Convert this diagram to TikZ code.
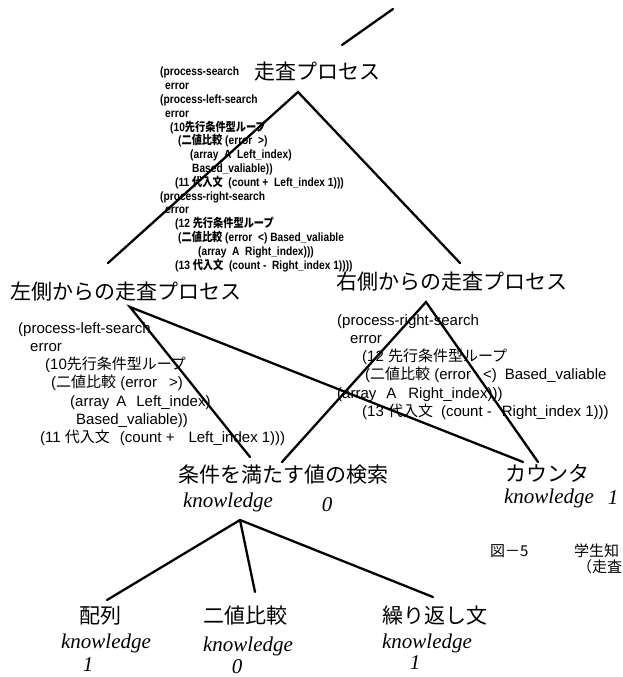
\documentclass[tikz,border=0pt]{standalone}
\usepackage{fontspec}
\setmainfont{Liberation Sans}
\newfontfamily\jp{Noto Sans CJK JP}
\newfontfamily\jpn[FakeStretch=0.85]{Noto Sans CJK JP}
\newfontfamily\lsn[FakeStretch=0.85]{Liberation Sans}
\newfontfamily\tms{Liberation Serif}
\newcommand\J[1]{{\jp #1}}
\newcommand\JN[1]{{\jpn\bfseries #1}}
\begin{document}
\begin{tikzpicture}[x=1pt,y=-1pt,
  conn/.style={line width=2.3pt, black, line cap=round},
  big/.style={font=\jp\fontsize{21}{21}\selectfont, inner sep=0pt},
  know/.style={font=\tms\itshape\fontsize{21}{21}\selectfont, inner sep=0pt},
  codeblk/.style={font=\fontsize{15}{18.3}\selectfont, align=left, anchor=north west, inner sep=0pt},
  tcodeblk/.style={font=\lsn\bfseries\fontsize{12}{13.8}\selectfont, align=left, anchor=north west, inner sep=0pt},
  capt/.style={font=\jp\fontsize{15}{15}\selectfont, inner sep=0pt, anchor=west}]
\useasboundingbox (0,0) rectangle (622,677);
\clip (0,0) rectangle (622,677);

% labels
\node[big] (top) at (317,72) {走査プロセス};
\node[big] (left) at (126,292) {左側からの走査プロセス};
\node[big] (right) at (452,282) {右側からの走査プロセス};
\node[big] (cond) at (283,475) {条件を満たす値の検索};
\node[big] (cnt) at (547,473) {カウンタ};
\node[know] (k0) at (228,502) {knowledge};
\node[know] (k0v) at (327,505) {0};
\node[know] (k1) at (549,498) {knowledge};
\node[know] (k1v) at (613,498) {1};
\node[big] (arr) at (100,616) {配列};
\node[know] (ka) at (106,643) {knowledge};
\node[know] (kav) at (88,665) {1};
\node[big] (bin) at (245,616) {二値比較};
\node[know] (kb) at (248,646) {knowledge};
\node[know] (kbv) at (237,667) {0};
\node[big] (rep) at (435,616) {繰り返し文};
\node[know] (kr) at (427,643) {knowledge};
\node[know] (krv) at (415,663) {1};
\node[capt] (fig) at (490,551) {図－5};
\node[capt] (figb) at (574,551) {学生知};
\node[capt] (figc) at (577,567) {（走査};

% code blocks
\node[tcodeblk] (topcode) at (160,67) {%
(process-search\\
\hspace*{5pt}error\\
(process-left-search\\
\hspace*{5pt}error\\
\hspace*{10pt}(10\JN{先行条件型ループ}\\
\hspace*{18pt}(\JN{二値比較} (error\ \ >)\\
\hspace*{30pt}(array\ \ A\ \ Left\_index)\\
\hspace*{32pt}Based\_valiable))\\
\hspace*{15pt}(11 \JN{代入文}\ \ (count +\ \ Left\_index 1)))\\
(process-right-search\\
\hspace*{5pt}error\\
\hspace*{15pt}(12 \JN{先行条件型ループ}\\
\hspace*{18pt}(\JN{二値比較} (error\ \ <) Based\_valiable\\
\hspace*{38pt}(array\ \ A\ \ Right\_index)))\\
\hspace*{15pt}(13 \JN{代入文}\ \ (count -\ \ Right\_index 1))))};

\node[codeblk] (leftcode) at (18,322) {%
(process-left-search\\
\hspace*{12pt}error\\
\hspace*{27pt}(10\J{先行条件型ループ}\\
\hspace*{33pt}(\J{二値比較} (error\hspace{12pt}>)\\
\hspace*{52pt}(array\hspace{7pt}A\hspace{10pt}Left\_index)\\
\hspace*{58pt}Based\_valiable))\\
\hspace*{22pt}(11 \J{代入文}\hspace{10pt}(count +\hspace{14pt}Left\_index 1)))};

\node[codeblk] (rightcode) at (337,314) {%
(process-right-search\\
\hspace*{13pt}error\\
\hspace*{25pt}(12 \J{先行条件型ループ}\\
\hspace*{28pt}(\J{二値比較} (error\hspace{12pt}<)\hspace{8pt}Based\_valiable\\
(array\hspace{10pt}A\hspace{12pt}Right\_index)))\\
\hspace*{25pt}(13 \J{代入文}\hspace{8pt}(count -\hspace{10pt}Right\_index 1)))};

% connector end points
\coordinate (fragA) at (342,45);
\coordinate (fragB) at (393,9);
\coordinate (apex) at (298,92);
\coordinate (lend) at (108,263);
\coordinate (rend) at (460,263);
\coordinate (lapex) at (130,307);
\coordinate (lk) at (250,457);
\coordinate (lc) at (523,462);
\coordinate (rapex) at (426,302);
\coordinate (rk) at (282,462);
\coordinate (rc) at (538,462);
\coordinate (kapex) at (240,520);
\coordinate (b1) at (107,600);
\coordinate (b2) at (255,592);
\coordinate (b3) at (433,597);

% connectors
\draw[conn] (fragA) -- (fragB);
\draw[conn] (lend) -- (apex) -- (rend);
\draw[conn] (lk) -- (lapex) -- (lc);
\draw[conn] (rk) -- (rapex) -- (rc);
\draw[conn] (kapex) -- (b1);
\draw[conn] (kapex) -- (b2);
\draw[conn] (kapex) -- (b3);
\end{tikzpicture}
\end{document}
